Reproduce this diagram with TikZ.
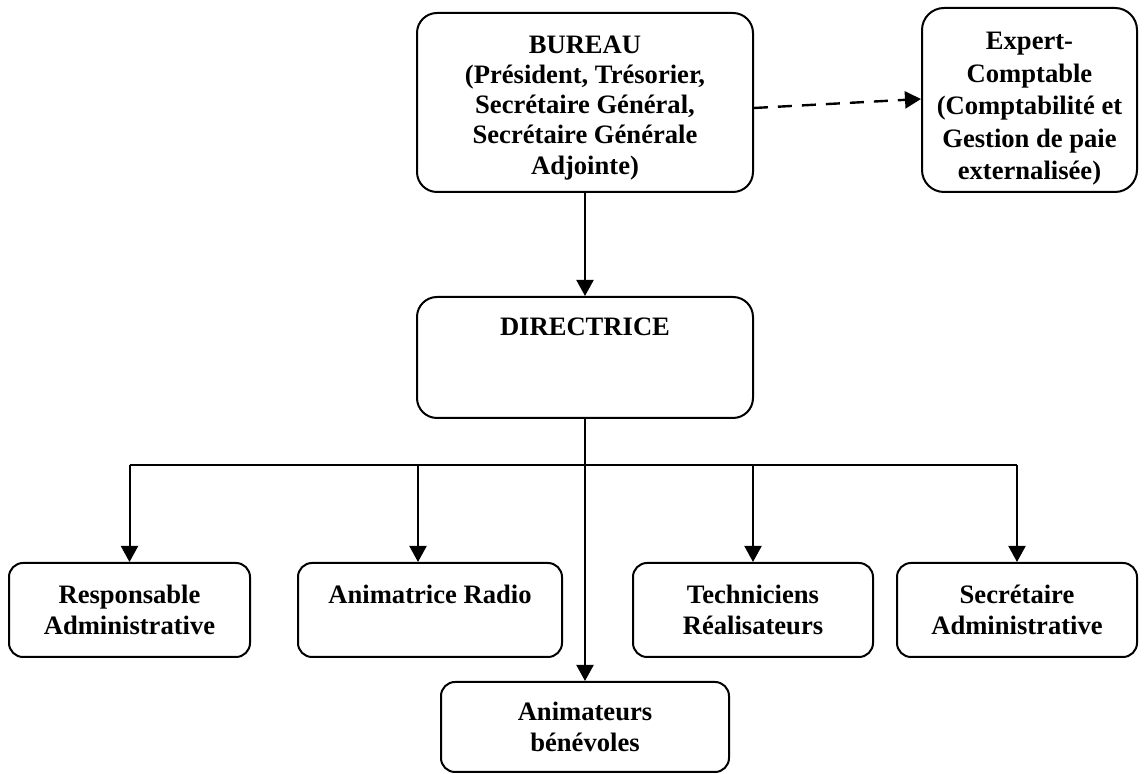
\documentclass[tikz,border=0pt]{standalone}
\usepackage{fontspec}
\setmainfont{Liberation Serif}
\usetikzlibrary{arrows.meta,positioning}
\begin{document}
\begin{tikzpicture}[
    x=0.5pt, y=-0.5pt,
    >={Triangle[length=8pt,width=8.5pt]},
    box/.style={rectangle, draw, line width=1pt, rounded corners=7pt, align=center,
                inner sep=2pt, font=\fontsize{13.3}{15.5}\selectfont\bfseries},
    big/.style={box, rounded corners=10pt, minimum width=168pt},
    low/.style={box, minimum height=47pt},
    link/.style={line width=1pt}
  ]
  \useasboundingbox (0,0) rectangle (1148,774);
  % top level
  \node[big, minimum height=89.5pt, font=\fontsize{13.3}{15.1}\selectfont\bfseries] (bureau) at (585,102.5)
    {\rule{0pt}{14pt}BUREAU\\(Président, Trésorier,\\Secrétaire Général,\\Secrétaire Générale\\Adjointe)};
  \node[box, rounded corners=11pt, minimum width=107.5pt, minimum height=92pt,
        font=\fontsize{13.3}{16.2}\selectfont\bfseries] (expert) at (1029.5,100)
    {\rule{0pt}{17.5pt}Expert-\\Comptable\\(Comptabilité et\\Gestion de paie\\externalisée)};
  \node[big, minimum height=60.5pt] (dir) at (585,357.5) {DIRECTRICE\\\mbox{}\\\mbox{}};
  % staff
  \node[low, minimum width=120.5pt] (resp) at (129.5,610) {Responsable\\Administrative};
  \node[low, minimum width=132pt] (anim) at (430,610) {Animatrice Radio\\\mbox{}};
  \node[low, minimum width=120pt] (tech) at (753,610) {Techniciens\\Réalisateurs};
  \node[low, minimum width=120pt] (secr) at (1017,610) {Secrétaire\\Administrative};
  \node[box, minimum width=144pt, minimum height=45pt] (benev) at (585,727) {Animateurs\\bénévoles};
  \coordinate (bus) at (585,465);

  \draw[link, ->] (bureau) -- (dir);
  \draw[link, ->, line width=1.2pt, dash pattern=on 7pt off 5pt] ([yshift=-2.75pt]bureau.east) -- ([yshift=0.5pt]expert.west);
  \draw[link, ->] (dir) -- (benev);
  \draw[link] (resp.north |- bus) -- (secr.north |- bus);
  \foreach \n in {resp,tech,secr}
    \draw[link, ->] (\n.north |- bus) -- (\n.north);
  \draw[link, ->] ([xshift=-6pt]anim.north |- bus) -- ([xshift=-6pt]anim.north);
\end{tikzpicture}
\end{document}
